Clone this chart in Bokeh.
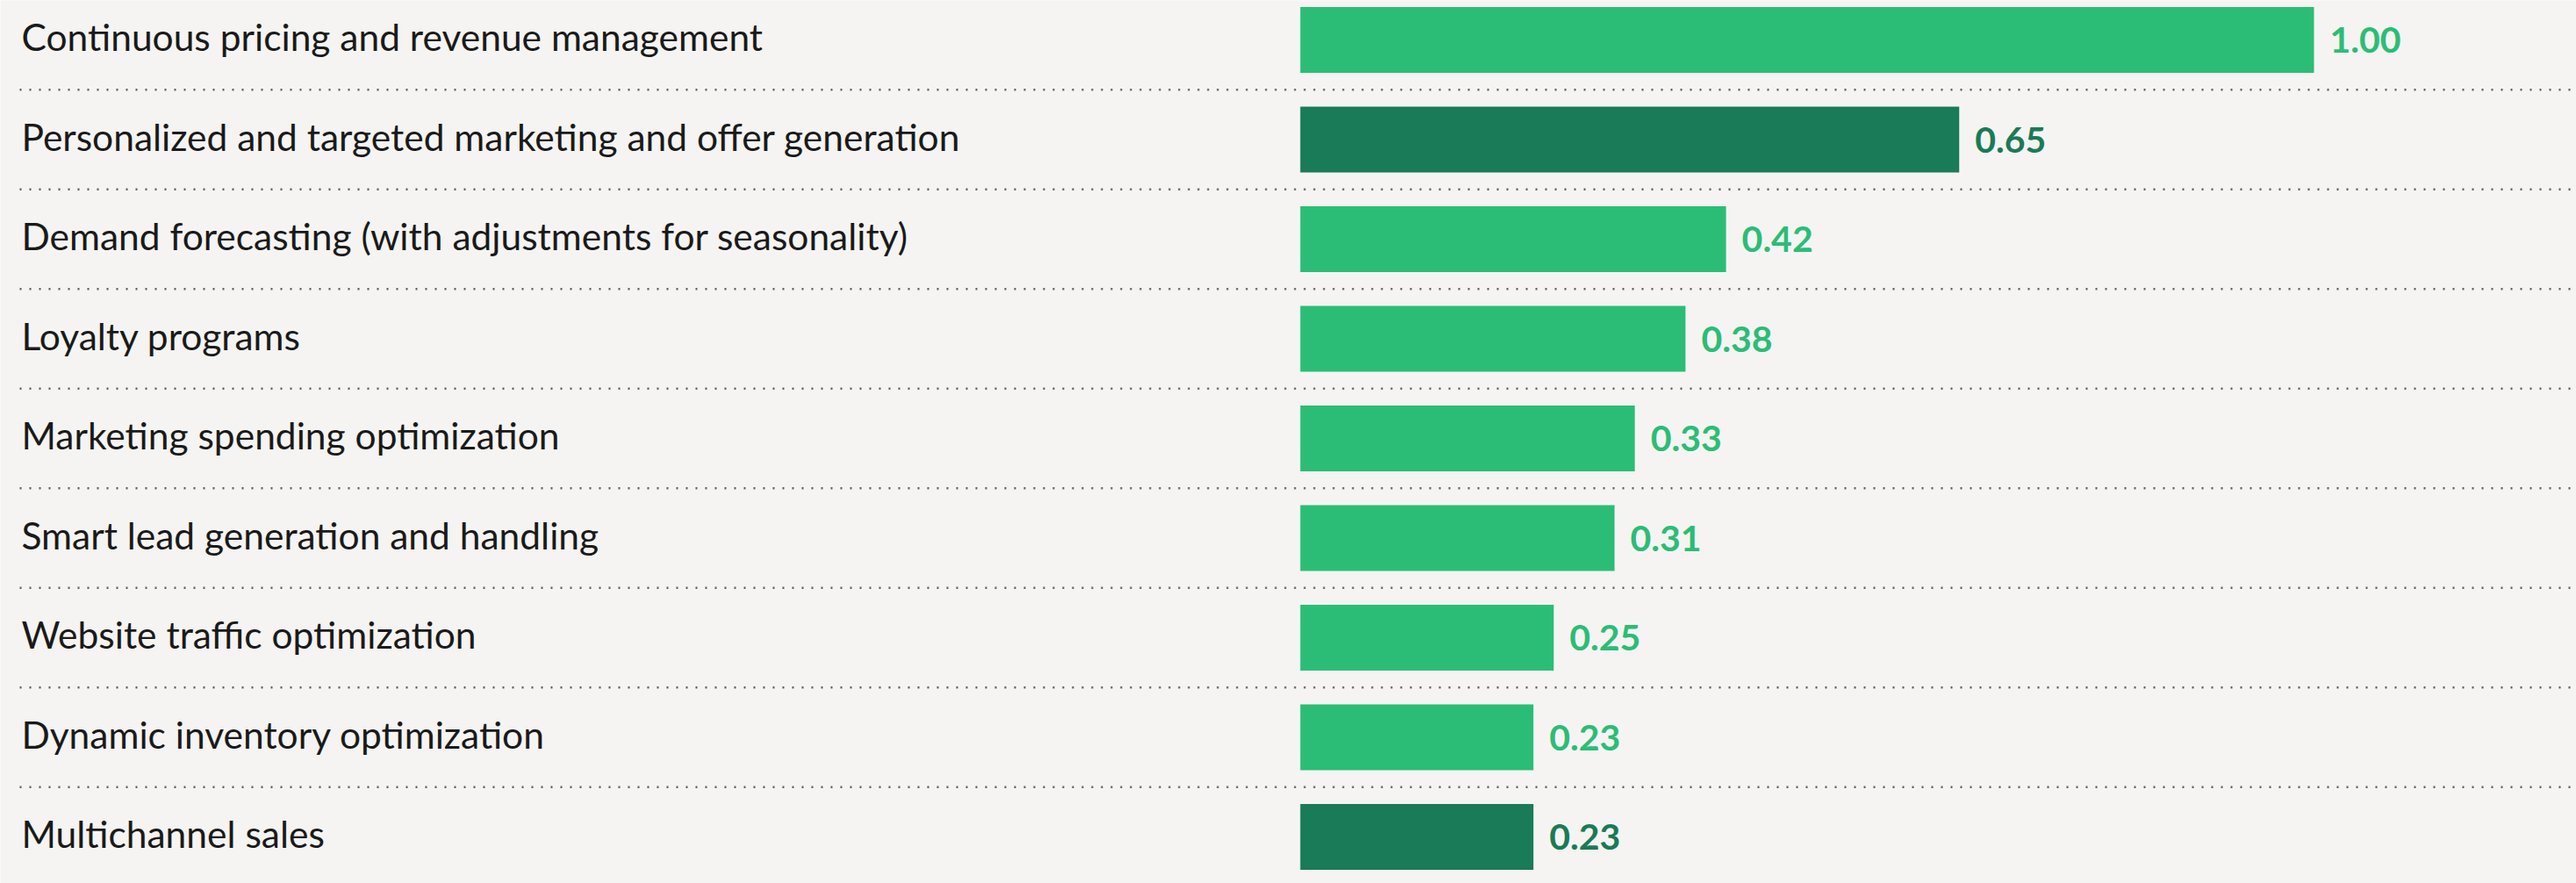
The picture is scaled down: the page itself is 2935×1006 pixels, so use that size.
from bokeh.plotting import figure
from bokeh.models import ColumnDataSource, Range1d
from bokeh.core.properties import value
from bokeh.embed import file_html
from bokeh.resources import INLINE

categories = [
    "Continuous pricing and revenue management",
    "Personalized and targeted marketing and offer generation",
    "Demand forecasting (with adjustments for seasonality)",
    "Loyalty programs",
    "Marketing spending optimization",
    "Smart lead generation and handling",
    "Website traffic optimization",
    "Dynamic inventory optimization",
    "Multichannel sales",
]
values = [1.00, 0.65, 0.42, 0.38, 0.33, 0.31, 0.25, 0.23, 0.23]
highlight = [False, True, False, False, False, False, False, False, True]
value_labels = ["1.00", "0.65", "0.42", "0.38", "0.33", "0.31", "0.25", "0.23", "0.23"]

LIGHT = "#2BBD76"
DARK = "#197B57"
BG = "#F5F4F2"

W, H = 2935, 1006
px_per_unit = 1155.0
bar_x0_px = 1481.0
row_px = 113.5
first_row_px = 45.0

x_start = -bar_x0_px / px_per_unit
x_end = (W - bar_x0_px) / px_per_unit
y_top = -first_row_px / row_px
y_bottom = (H - first_row_px) / row_px

n = len(categories)
rows = list(range(n))
colors = [DARK if h else LIGHT for h in highlight]

src = ColumnDataSource(dict(
    y=rows, v=values, cat=categories, lab=value_labels, color=colors,
    lx=[v + 18 / px_per_unit for v in values],
    cx=[(24 - bar_x0_px) / px_per_unit] * n,
))

p = figure(width=W, height=H, output_backend="svg", toolbar_location=None,
           x_range=Range1d(x_start, x_end), y_range=Range1d(y_bottom, y_top),
           min_border=0, background_fill_color=BG, border_fill_color=BG,
           outline_line_color=None)
p.axis.visible = False
p.grid.visible = False

# dotted separators between rows
sep_y = [i + 0.5 for i in range(n - 1)]
p.segment(x0=[(22 - bar_x0_px) / px_per_unit] * len(sep_y), x1=[x_end] * len(sep_y),
          y0=sep_y, y1=sep_y, line_color="#5f5f5f", line_width=2.5,
          line_dash="2 9")

p.hbar(y="y", left=0, right="v", height=0.66, fill_color="color",
       line_color=None, source=src)

p.text(x="cx", y="y", text="cat", source=src, text_baseline="middle",
       text_align="left", text_font=value("Lato"), text_font_size="42.5px",
       text_color="#1a1a1a", y_offset=-4)

p.text(x="lx", y="y", text="lab", source=src, text_baseline="middle",
       text_align="left", text_font=value("Lato"), text_font_style="bold",
       text_font_size="41px", text_color="color")

open("out.html", "w").write(file_html(p, INLINE))
